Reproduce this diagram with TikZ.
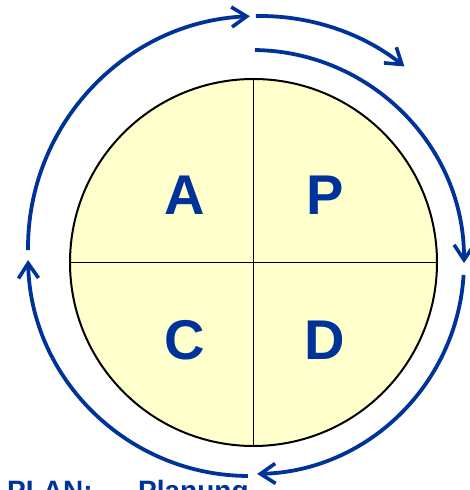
\documentclass[tikz,border=0pt]{standalone}
\usepackage{fontspec}
\setmainfont{Liberation Sans}
\usetikzlibrary{arrows.meta}
\definecolor{pdcablue}{RGB}{0,51,153}
\definecolor{pdcayellow}{RGB}{255,255,204}
\tikzset{
  wheel/.style={draw=black,line width=2pt,fill=pdcayellow},
  splitline/.style={draw=black,line width=1.6pt},
  phase/.style={text=pdcablue,font=\fontsize{56}{60}\selectfont\bfseries,inner sep=0pt},
  cyclearr/.style={pdcablue,line width=3.8pt,-{Straight Barb[length=15pt,width=20pt,line width=3.6pt]}},
  legend/.style={text=pdcablue,font=\fontsize{28}{30}\selectfont\bfseries,inner sep=0pt,anchor=base west}
}

\begin{document}
\begin{tikzpicture}[x=1pt,y=1pt]
  \useasboundingbox (0,0) rectangle (470,490);
  % wheel with its four quarters
  \coordinate (m) at (253.5,227.5);
  \draw[wheel] (m) circle[radius=183.5];
  \draw[splitline] ([yshift=183.5]m) -- ([yshift=-183.5]m);
  \draw[splitline] ([xshift=-183.5]m) -- ([xshift=183.5]m);
  \node[phase] (a) at (185,295) {A};
  \node[phase] (p) at (325,295) {P};
  \node[phase] (c) at (185,150) {C};
  \node[phase] (d) at (325,150) {D};

  % arcs round the wheel
  \coordinate (c1) at (260,242);
  \coordinate (c2) at (252,228);
  \coordinate (c3) at (249,235);
  \draw[cyclearr] ([shift={(180.5:232)}]c1) arc[start angle=180.5,end angle=92.5,radius=232];
  \draw[cyclearr] ([shift={(91:232)}]c1) arc[start angle=91,end angle=51.5,radius=232];
  \draw[cyclearr] ([shift={(89.2:212)}]c2) arc[start angle=89.2,end angle=-0.3,radius=212];
  \draw[cyclearr] ([shift={(-3.5:212)}]c2) arc[start angle=-3.5,end angle=-88.6,radius=212];
  \draw[cyclearr] ([shift={(-90.3:221)}]c3) arc[start angle=-90.3,end angle=-178.7,radius=221];

  % legend, cut by the page edge as in the source
  \node[legend] (plan) at (7,-10) {PLAN:};
  \node[legend] (planung) at (138,-10) {Planung};
\end{tikzpicture}
\end{document}
